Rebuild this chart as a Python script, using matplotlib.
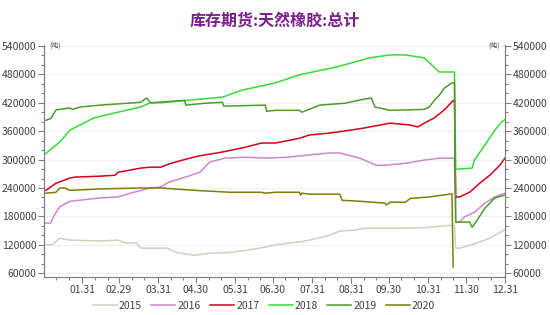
import matplotlib
matplotlib.use('Agg')
import matplotlib.pyplot as plt

plt.rcParams['font.family'] = ['Noto Sans CJK SC', 'DejaVu Sans']

# day of year (leap-year axis, 01.31 = 31 ... 12.31 = 366) and stock in thousand tonnes
days2015 = [2, 7, 13, 21, 45, 59, 65, 74, 77, 98, 105, 120, 132, 148, 160, 176, 184, 203, 211, 227, 235, 247, 255,
            267, 287, 306, 322, 326, 327, 330, 338, 346, 354, 366]
vals2015 = [120, 120, 134, 130, 128, 130, 124, 124, 113, 113, 104, 98, 102, 104, 108, 115, 120, 126, 130, 140, 149, 151,
            155, 155, 155, 157, 161, 161, 113, 113, 119, 126, 134, 152]

days2016 = [2, 6, 8, 13, 21, 45, 59, 69, 85, 93, 99, 115, 124, 132, 144, 160, 176, 193, 227, 235, 251, 264, 271, 287,
            302, 314, 326, 327, 330, 334, 342, 350, 358, 366]
vals2016 = [166, 166, 180, 200, 212, 219, 221, 229, 240, 242, 252, 265, 273, 295, 303, 305, 303, 305, 314, 314, 303,
            288, 288, 292, 299, 303, 303, 168, 168, 179, 189, 208, 221, 229]

days2017 = [2, 10, 21, 25, 45, 57, 59, 77, 85, 93, 101, 116, 124, 142, 160, 173, 184, 203, 211, 227, 243, 255, 275,
            291, 297, 302, 310, 318, 324, 326, 327, 330, 338, 346, 354, 362, 366]
vals2017 = [235, 250, 261, 263, 265, 267, 273, 282, 284, 284, 292, 303, 308, 316, 326, 335, 335, 345, 352, 356, 362,
            367, 377, 373, 369, 377, 388, 405, 422, 426, 221, 221, 231, 250, 267, 288, 303]

days2018 = [2, 13, 21, 40, 59, 77, 85, 93, 142, 158, 184, 203, 233, 259, 275, 287, 302, 314, 324, 326, 327, 330, 340,
            342, 350, 358, 363, 366]
vals2018 = [313, 337, 362, 388, 400, 411, 420, 420, 432, 447, 462, 479, 496, 515, 521, 521, 515, 485, 485, 485, 280,
            280, 282, 300, 330, 362, 379, 384]

days2019 = [2, 6, 10, 21, 23, 29, 45, 77, 82, 85, 112, 113, 128, 142, 143, 176, 177, 184, 203, 205, 219, 239, 255,
            260, 263, 275, 302, 306, 310, 314, 318, 324, 326, 327, 330, 338, 340, 344, 350, 358, 366]
vals2019 = [383, 387, 405, 409, 406, 411, 415, 421, 430, 420, 425, 415, 419, 421, 413, 415, 402, 404, 404, 400, 415,
            419, 428, 430, 411, 404, 406, 411, 425, 436, 451, 462, 462, 168, 168, 168, 157, 172, 197, 219, 225]

days2020 = [2, 10, 13, 17, 21, 45, 77, 93, 120, 148, 173, 176, 184, 203, 204, 205, 211, 235, 237, 251, 271, 272, 275,
            287, 291, 306, 322, 324, 325]
vals2020 = [229, 231, 240, 240, 235, 238, 240, 240, 235, 231, 231, 229, 231, 231, 225, 229, 227, 227, 214, 212, 208,
            204, 210, 210, 218, 221, 227, 228, 73]

years = ['2015', '2016', '2017', '2018', '2019', '2020']
allDays = [days2015, days2016, days2017, days2018, days2019, days2020]
allVals = [vals2015, vals2016, vals2017, vals2018, vals2019, vals2020]
colors = ['#cfcfc0', '#cc88cc', '#d0021b', '#33dd33', '#4f9a2c', '#7d7d0a']

tickDays = [31, 60, 91, 121, 152, 182, 213, 244, 274, 305, 335, 366]
tickLabels = ['01.31', '02.29', '03.31', '04.30', '05.31', '06.30', '07.31', '08.31', '09.30', '10.31', '11.30', '12.31']
monthStarts = [0, 31, 60, 91, 121, 152, 182, 213, 244, 274, 305, 335]

fig = plt.figure(figsize=(5.5, 3.15), dpi=100)
ax = fig.add_axes([0.08, 0.1206, 0.838, 0.735])

for i in range(len(years)):
    v = [x * 1000 for x in allVals[i]]
    ax.plot(allDays[i], v, color=colors[i], linewidth=1.1, label=years[i])

ax.set_xlim(0.5, 366)
ax.set_ylim(52000, 541000)
yt = list(range(60000, 540001, 60000))
ax.set_yticks(yt)
ax.set_yticklabels([str(t) for t in yt])
ax.set_yticks(list(range(60000, 540001, 20000)), minor=True)
ax.set_xticks(tickDays)
ax.set_xticklabels(tickLabels)
ax.set_xticks([m + d for m in monthStarts for d in (10, 20)], minor=True)
ax.grid(axis='y', color='#efefef', linewidth=0.8)
ax.set_axisbelow(True)

ax2 = ax.twinx()
ax2.set_ylim(ax.get_ylim())
ax2.set_yticks(yt)
ax2.set_yticklabels([str(t) for t in yt])
ax2.set_yticks(list(range(60000, 540001, 20000)), minor=True)

for a in (ax, ax2):
    a.spines['top'].set_visible(False)
    for s in ('left', 'right', 'bottom'):
        a.spines[s].set_color('#7f7f7f')
        a.spines[s].set_linewidth(0.8)
    a.tick_params(which='major', length=4, width=0.8, color='#7f7f7f', labelsize=7.5, labelcolor='#404040', pad=1.5)
    a.tick_params(which='minor', length=2.5, width=0.8, color='#7f7f7f')

ax.text(0.012, 1.0, '(吨)', transform=ax.transAxes, fontsize=5, color='#404040', va='center', ha='left')
ax.text(0.99, 1.0, '(吨)', transform=ax.transAxes, fontsize=5, color='#404040', va='center', ha='right')

fig.text(0.5, 0.935, '库存期货:天然橡胶:总计', ha='center', va='center', fontsize=11.5, fontweight='bold', color='#7b1f8c')

handles, labels = ax.get_legend_handles_labels()
fig.legend(handles, labels, loc='center', bbox_to_anchor=(0.48, 0.03), ncol=6, frameon=False, fontsize=7.5,
           handlelength=2.3, handletextpad=0.2, columnspacing=0.9, labelcolor='#404040')

fig.savefig('out.png', dpi=100)
